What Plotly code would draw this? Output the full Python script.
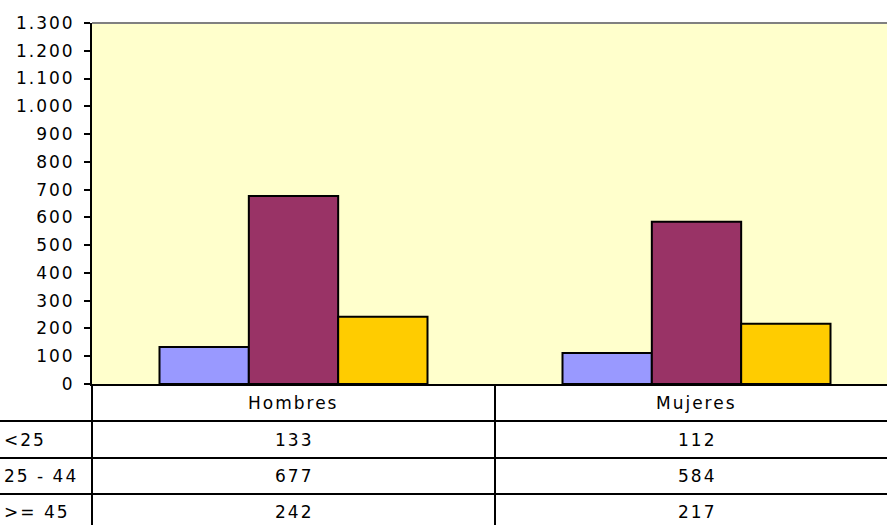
import plotly.graph_objects as go

categories = ["Hombres", "Mujeres"]
series_names = ["<25", "25 - 44", ">= 45"]
values_lt25 = [133, 112]
values_25_44 = [677, 584]
values_ge45 = [242, 217]
colors = ["#9999FF", "#993366", "#FFCC00"]
y_ticks = list(range(0, 1301, 100))

W, H = 887, 525
L, T = 92, 23
ZERO_Y = 384
plot_h = ZERO_Y - T
plot_w = W - L
cat_px = 403.0
LS = 2  # letter spacing px

def py(ypx):
    return (ZERO_Y - ypx) / plot_h

def px(xpx):
    return (xpx - L) / plot_w

xs = list(range(len(categories)))
all_series = [values_lt25, values_25_44, values_ge45]

fig = go.Figure()
for name, vals, col in zip(series_names, all_series, colors):
    fig.add_trace(go.Bar(
        x=xs, y=vals, name=name,
        marker=dict(color=col, line=dict(color="black", width=2)),
        hoverinfo="skip",
    ))

FONT = "DejaVu Sans, Verdana, sans-serif"
FS = 17
fig.update_layout(
    width=W, height=H,
    margin=dict(l=L, r=0, t=T, b=H - ZERO_Y, pad=0),
    paper_bgcolor="white",
    plot_bgcolor="#FFFFCC",
    barmode="group",
    bargap=0.335,
    bargroupgap=0,
    showlegend=False,
    separators=",.",
    font=dict(family=FONT, size=FS, color="black"),
    xaxis=dict(
        range=[-0.5, -0.5 + plot_w / cat_px],
        showticklabels=False, ticks="", showgrid=False, zeroline=False,
        showline=True, linecolor="black", linewidth=2,
        fixedrange=True,
    ),
    yaxis=dict(
        range=[0, 1300], tickvals=y_ticks, tickformat=",d",
        ticks="outside", ticklen=6, tickwidth=2, tickcolor="black",
        ticklabelstandoff=6,
        showgrid=False, zeroline=False,
        showline=True, linecolor="black", linewidth=2,
        tickfont=dict(family=FONT, size=FS, color="black"),
        fixedrange=True,
    ),
)

shapes = []
shapes.append(dict(type="line", xref="paper", yref="paper", x0=0, x1=1, y0=1, y1=1,
                   line=dict(color="#808080", width=2)))
shapes.append(dict(type="line", xref="paper", yref="paper", x0=0, x1=0, y0=0, y1=py(H + 2),
                   line=dict(color="black", width=2)))
shapes.append(dict(type="line", xref="x", yref="paper", x0=0.5, x1=0.5, y0=0, y1=py(H + 2),
                   line=dict(color="black", width=2)))
for ypx in [421, 458, 494]:
    shapes.append(dict(type="line", xref="paper", yref="paper", x0=px(0), x1=1, y0=py(ypx), y1=py(ypx),
                       line=dict(color="black", width=2)))
fig.update_layout(shapes=shapes)

ann = []
for i, c in enumerate(categories):
    ann.append(dict(x=i, y=py(403), xref="x", yref="paper", text=c, showarrow=False,
                    xanchor="center", yanchor="middle", font=dict(family=FONT, size=FS)))
row_y = [440, 476, 512]
for name, vals, ry in zip(series_names, all_series, row_y):
    ann.append(dict(x=px(1), y=py(ry), xref="paper", yref="paper",
                    text=name.replace("<", "&lt;").replace(">", "&gt;"),
                    xshift=len(name) * LS / 2 + 1,
                    showarrow=False, xanchor="left", yanchor="middle", font=dict(family=FONT, size=FS)))
    for i, v in enumerate(vals):
        ann.append(dict(x=i, y=py(ry), xref="x", yref="paper", text=str(v), showarrow=False,
                        xanchor="center", yanchor="middle", font=dict(family=FONT, size=FS)))
fig.update_layout(annotations=ann)

post = (
    "document.body.style.margin='0';document.body.style.overflow='hidden';"
    "var st=document.createElement('style');"
    "st.textContent='.main-svg text{letter-spacing:%dpx;}';"
    "document.head.appendChild(st);" % LS
)
fig.write_html("out.html", config={"displayModeBar": False}, post_script=post)
